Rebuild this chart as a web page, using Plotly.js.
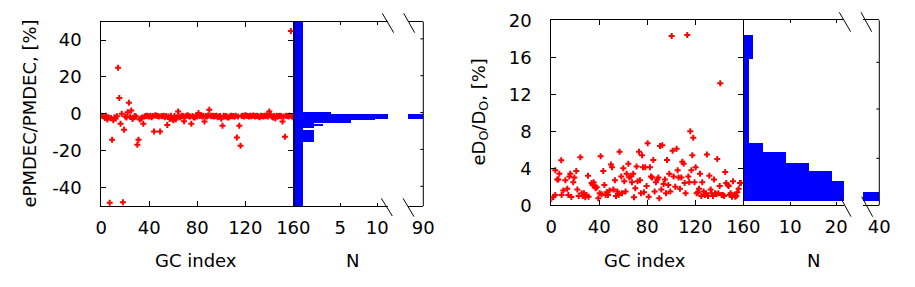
<!DOCTYPE html>
<html><head><meta charset="utf-8">
<script src="https://cdn.plot.ly/plotly-3.0.1.min.js"></script>
<style>html,body{margin:0;padding:0;background:#fff}#c{width:915px;height:287px}</style>
</head><body><div id="c"></div>
<script>
// ---- Left panel: ePMDEC/PMDEC vs GC index ----
const leftIdx = [0,1,2,3,4,5,6,7,8,9,10,11,12,13,14,15,16,17,18,19,20,21,22,23,24,25,26,27,28,29,30,31,32,33,34,35,36,37,38,39,40,41,42,43,44,45,46,47,48,49,50,51,52,53,54,55,56,57,58,59,60,61,62,63,64,65,66,67,68,69,70,71,72,73,74,75,76,77,78,79,80,81,82,83,84,85,86,87,88,89,90,91,92,93,94,95,96,97,98,99,100,101,102,103,104,105,106,107,108,109,110,111,112,113,114,115,116,117,118,119,120,121,122,123,124,125,126,127,128,129,130,131,132,133,134,135,136,137,138,139,140,141,142,143,144,145,146,147,148,149,150,151,152,153,154,155,156,157,158,159,160];
const leftRatio = [-1.0,-1.2,-1.5,-2.3,-1.0,-3.0,-1.8,-48.3,-2.2,-14,-3.5,-1.9,-2.5,-1.3,25,8.6,-5.4,0,-48,-8.6,-1.5,-2.0,0.9,6,-1.5,1.8,-2.8,-2.0,-1.2,-1.5,-16.8,-14.1,-3.0,-2.5,-2.0,-5.4,-1.5,-1.2,-1.0,-1.3,-1.5,-1.0,-1.8,-1.2,-9.6,-0.8,-1.0,-1.2,-1.5,-9.6,-1.1,-1.3,-1.0,-1.8,-1.2,-6.0,-1.5,-2.8,-1.0,-2.5,-3.5,-1.2,-3.0,-1.8,1.3,-1.5,-2.0,-1.0,-1.2,-4.0,-1.5,-1.0,-0.8,-1.3,-1.5,-5.4,-1.2,-1.8,-2.0,-1.0,-1.5,0.4,-1.2,-0.8,-1.5,-1.0,-4.1,-1.2,-1.5,-0.9,2.2,-1.0,-1.3,-1.0,-1.5,-1.2,-1.0,-1.8,-1.5,-1.2,-2.6,-6.4,-1.0,-1.5,-1.2,-1.8,-2.0,-1.5,-1.0,-1.3,-1.2,-1.6,-1.0,-12.8,-1.5,-6.4,-17.3,-1.2,-1.0,-1.5,-0.8,-1.0,-1.2,-1.5,-1.0,-1.3,-1.0,-0.9,-1.5,-1.2,-1.0,-1.5,-1.8,-1.0,-1.2,-1.5,-1.0,-1.3,-0.8,-1.5,1.3,-0.5,-1.5,-2.0,-1.2,-2.5,-1.0,-1.5,-1.2,-1.0,-1.3,-4.1,-1.5,-12.4,-1.0,-1.2,-1.5,-1.0,45,-1.5,-2.0];
// histogram of left values: bin edges (top to bottom) and values N
const leftBinEdges = [50, 1.24, 0, -2.54, -3.46, -4.7, -5.24, -6.7, -7.78, -8.86, -15.35, -50];
const leftCounts = [0, 3.8, 90, 9.7, 6.4, 1.5, 2.7, 1.5, 0, 1.5, 0];
const leftTickVals = [-40, -20, 0, 20, 40];
const leftTickText = ['-40', '-20', '0', '20', '40'];

// ---- Right panel: eDo/Do vs GC index ----
const rightIdx = [0,1.7,3.3,3.3,5,5.8,6.7,8.3,8.6,10,11.7,13.3,14.2,15,15.8,16.7,18.3,19.2,20.8,21.7,22.8,24.2,25.3,26.1,27.2,28.3,29.4,30.6,31.1,33.6,34.4,35.3,36.1,36.9,37.8,39.2,40.3,41.1,41.9,43.3,44.2,45.3,46.1,47.2,48.6,49.7,50.6,51.7,53,53.9,55,56.1,56.9,58.3,58.9,60,60.8,61.9,62.8,64.2,65,66.1,67.2,68.3,68.9,70,71.1,71.9,73.1,73.9,74.7,75.6,76.4,77.2,78.3,79.4,80.3,81.1,82.2,83.1,83.9,85,86.1,87.2,88.3,89.2,90,90.6,91.7,92.5,93.6,94.7,95.6,96.4,97.5,98.3,99.2,100.3,101.1,101.9,103.3,104.4,105.3,106.1,107.2,108.3,109.2,110.3,111.1,111.9,113.3,114.2,115,115.8,116.7,117.5,118.3,119.4,120.3,121.1,122.2,123.1,123.9,125,125.8,126.9,128,128.9,129.7,130.6,131.7,132.8,133.6,134.7,135.6,136.4,137.5,138.3,139.2,140.3,140.8,141.9,143,144,144.9,145.8,146.9,147.8,148.6,149.4,150.6,151.4,152.5,153.3,154.2,155,156.1,157.2,158];
const rightRatio = [0.68,0.93,1.1,3.8,2.8,2.8,3.4,4.86,1.1,1.6,2.7,1.8,1.1,3.1,3.4,0.9,2.5,3.0,3.7,1.7,1.0,5.2,1.3,1.0,1.3,0.86,1.1,3.2,0.93,2.4,2.2,2.5,2.1,1.85,1.95,0.75,1.3,5.3,1.2,3.7,2.2,1.1,1.4,1.1,1.6,4.4,4.1,1.7,2.7,1.0,1.5,1.1,5.8,3.1,1.3,4.0,2.6,1.5,3.4,4.5,3.0,3.1,2.5,3.4,0.86,1.85,4.2,2.6,5.8,2.7,1.3,5.4,4.1,1.4,4.1,2.1,6.7,0.93,4.1,3.1,3.0,4.9,1.5,2.5,2.8,3.0,0.75,6.4,1.7,6.5,2.3,2.8,1.3,4.9,2.2,3.4,1.5,18.3,5.9,3.1,2.0,6.1,3.8,3.0,1.8,3.0,4.7,4.5,2.4,1.3,18.4,3.1,2.5,8.0,3.8,5.4,7.3,2.5,4.1,1.3,1.4,1.8,3.4,1.0,2.5,1.5,1.1,1.3,5.5,1.0,3.2,1.7,1.3,1.0,2.8,1.3,1.2,5.0,1.3,2.1,13.2,1.1,1.1,1.0,3.6,2.4,2.2,2.1,1.1,1.3,0.93,2.6,1.1,0.93,1.0,1.4,1.8,2.4,2.4];
const rightBinEdges = [18.4, 15.85, 6.77, 5.76, 4.57, 3.71, 2.63, 1.44, 0.5];
const rightCounts = [2, 1, 4, 9, 14, 19, 30, 40];
const rightTickVals = [0, 4, 8, 12, 16, 20];

const gcTicks = [0, 40, 80, 120, 160];
const leftNTicks = [5, 10], leftNTicks2 = [90];
const rightNTicks = [10, 20], rightNTicks2 = [40];

// ---- geometry helpers (pixels -> paper) ----
const W = 915, H = 287;
const fx = p => p / W, fy = p => 1 - p / H;
const FONT = 'DejaVu Sans';
const FS = 18;
const RED = '#ff0000', BLUE = '#0000ff';

function binsToBars(edges, counts) {
  const y = [], w = [];
  for (let i = 0; i < counts.length; i++) {
    y.push((edges[i] + edges[i + 1]) / 2);
    w.push(Math.abs(edges[i] - edges[i + 1]));
  }
  return {y, w};
}
const lb = binsToBars(leftBinEdges, leftCounts);
const rb = binsToBars(rightBinEdges, rightCounts);
const leftBase = -3; // bars start below the N axis minimum
const rightBase = 0;

const scatterMarker = {symbol: 'cross', size: 5, color: RED, line: {width: 0}};
const traces = [
  {type: 'scatter', mode: 'markers', x: leftIdx, y: leftRatio, xaxis: 'x', yaxis: 'y', marker: scatterMarker},
  {type: 'bar', orientation: 'h', y: lb.y, width: lb.w, base: leftBase, x: leftCounts.map(c => c - leftBase),
   xaxis: 'x2', yaxis: 'y', marker: {color: BLUE, line: {width: 0}}},
  {type: 'bar', orientation: 'h', y: lb.y, width: lb.w, base: leftBase, x: leftCounts.map(c => c - leftBase),
   xaxis: 'x3', yaxis: 'y', marker: {color: BLUE, line: {width: 0}}},
  {type: 'scatter', mode: 'markers', x: rightIdx, y: rightRatio, xaxis: 'x4', yaxis: 'y3', marker: scatterMarker},
  {type: 'bar', orientation: 'h', y: rb.y, width: rb.w, base: rightBase, x: rightCounts.map(c => c - rightBase),
   xaxis: 'x5', yaxis: 'y3', marker: {color: BLUE, line: {width: 0}}},
  {type: 'bar', orientation: 'h', y: rb.y, width: rb.w, base: rightBase, x: rightCounts.map(c => c - rightBase),
   xaxis: 'x6', yaxis: 'y3', marker: {color: BLUE, line: {width: 0}}}
];

const axBase = {showline: true, linecolor: 'black', linewidth: 1, ticks: 'inside', tickcolor: 'black', tickwidth: 1,
  showgrid: false, zeroline: false, fixedrange: true, tickfont: {family: FONT, size: FS, color: 'black'}};
const xStand = 5, yStand = 15;

const layout = {
  width: W, height: H, margin: {l: 0, r: 0, t: 0, b: 0}, showlegend: false,
  paper_bgcolor: 'white', plot_bgcolor: 'rgba(0,0,0,0)',
  font: {family: FONT, size: FS, color: 'black'},
  bargap: 0,
  xaxis: Object.assign({}, axBase, {domain: [fx(101.3), fx(293.3)], range: [0, 160], anchor: 'y', tickvals: gcTicks,
    ticklen: 5, mirror: 'ticks', ticklabelstandoff: xStand}),
  yaxis: Object.assign({}, axBase, {domain: [fy(206), fy(21.7)], range: [-50, 50], anchor: 'x', tickvals: leftTickVals,
    ticktext: leftTickText, ticklen: 5, mirror: 'ticks', ticklabelstandoff: yStand}),
  xaxis2: Object.assign({}, axBase, {domain: [fx(293.3), fx(388)], range: [-1.35, 11.45], anchor: 'y', tickvals: leftNTicks,
    ticklen: 3, mirror: 'ticks', ticklabelstandoff: xStand}),
  xaxis3: Object.assign({}, axBase, {domain: [fx(408), fx(423.3)], range: [88, 90], anchor: 'y', tickvals: leftNTicks2,
    ticklen: 3, mirror: 'ticks', ticklabelstandoff: xStand}),
  xaxis4: Object.assign({}, axBase, {domain: [fx(551.3), fx(743.3)], range: [0, 160], anchor: 'y3', tickvals: gcTicks,
    ticklen: 5, mirror: 'ticks', ticklabelstandoff: xStand}),
  yaxis3: Object.assign({}, axBase, {domain: [fy(205.3), fy(20.3)], range: [0, 20], anchor: 'x4', tickvals: rightTickVals,
    ticklen: 5, mirror: 'ticks', ticklabelstandoff: yStand}),
  xaxis5: Object.assign({}, axBase, {domain: [fx(743.3), fx(844)], range: [-0.2, 21.7], anchor: 'y3', tickvals: rightNTicks,
    ticklen: 3, mirror: 'ticks', ticklabelstandoff: xStand}),
  xaxis6: Object.assign({}, axBase, {domain: [fx(863), fx(879.3)], range: [36.5, 40], anchor: 'y3', tickvals: rightNTicks2,
    ticklen: 3, mirror: 'ticks', ticklabelstandoff: xStand}),
  annotations: [
    {text: 'GC index', xref: 'paper', yref: 'paper', x: fx(196), y: fy(260), showarrow: false, xanchor: 'center', yanchor: 'middle', font: {size: FS}},
    {text: 'N', xref: 'paper', yref: 'paper', x: fx(352), y: fy(260), showarrow: false, xanchor: 'center', yanchor: 'middle', font: {size: FS}},
    {text: 'GC index', xref: 'paper', yref: 'paper', x: fx(645), y: fy(260), showarrow: false, xanchor: 'center', yanchor: 'middle', font: {size: FS}},
    {text: 'N', xref: 'paper', yref: 'paper', x: fx(813.5), y: fy(260), showarrow: false, xanchor: 'center', yanchor: 'middle', font: {size: FS}},
    {text: 'ePMDEC/PMDEC, [%]', xref: 'paper', yref: 'paper', x: fx(29), y: fy(113.5), textangle: -90, showarrow: false, xanchor: 'center', yanchor: 'middle', font: {size: FS}},
    {text: 'eD<sub>O</sub>/D<sub>O</sub>, [%]', xref: 'paper', yref: 'paper', x: fx(479), y: fy(112.5), textangle: -90, showarrow: false, xanchor: 'center', yanchor: 'middle', font: {size: FS}}
  ],
  shapes: []
};

const S = layout.shapes;
function pline(x0, y0, x1, y1, w) {
  S.push({type: 'line', xref: 'paper', yref: 'paper', x0: fx(x0), y0: fy(y0), x1: fx(x1), y1: fy(y1), line: {color: 'black', width: w || 1}});
}
// separator thickness for left panel
pline(294.3, 21.7, 294.3, 206, 1);
// right borders of histogram panels
pline(423.3, 21.7, 423.3, 206, 1);
pline(879.3, 20.3, 879.3, 205.3, 1);
// left histogram right-border ticks (on the y scale)
leftTickVals.forEach(v => S.push({type: 'line', xref: 'paper', yref: 'y', x0: fx(420.3), x1: fx(423.3), y0: v + 0.7, y1: v + 0.7, line: {color: 'black', width: 1}}));
// right histogram right-border ticks
[62.3, 109, 158.3].forEach(p => pline(876.3, p, 879.3, p, 1));
// axis-break marks
pline(382.3, 13.3, 393.7, 32.7); pline(403.7, 13.3, 414.7, 32.7);
pline(381.3, 198.3, 392.3, 216); pline(403, 198.3, 414, 216.7);
pline(839.3, 12.3, 850.7, 31.7); pline(861, 12.3, 871.7, 31.7);
pline(840, 196.7, 851, 216.7); pline(861.7, 196.7, 872.7, 216.7);

Plotly.newPlot('c', traces, layout, {staticPlot: true, displayModeBar: false});
</script>
</body></html>
